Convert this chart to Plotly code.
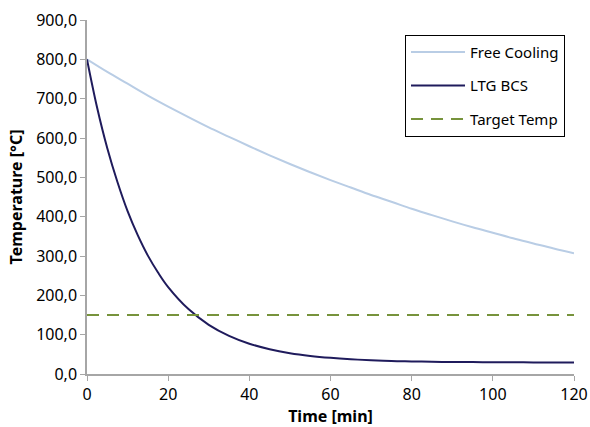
import plotly.graph_objects as go

time_fc = [0, 5, 10, 15, 20, 25, 30, 35, 40, 45, 50, 55, 60, 65, 70, 75, 80,
           85, 90, 95, 100, 105, 110, 115, 120]
free_cooling = [800, 768, 738, 708, 680, 653, 627, 603, 579, 556, 534, 513, 493,
                474, 455, 438, 420, 404, 388, 373, 359, 345, 332, 319, 307]

time_ltg = [0, 2.5, 5, 7.5, 10, 12.5, 15, 17.5, 20, 25, 30, 35, 40, 45, 50, 55, 60,
            65, 70, 75, 80, 85, 90, 95, 100, 105, 110, 115, 120]
ltg_bcs = [800, 677, 574, 488, 414, 353, 301, 258, 221, 165, 125, 97, 77, 63, 53, 46, 41,
           37.5, 35, 33, 32, 31.1, 30.6, 30.2, 29.9, 29.7, 29.5, 29.4, 29.3]

time_target = [0, 120]
target_temp = [150, 150]

x_ticks = [0, 20, 40, 60, 80, 100, 120]
y_ticks = [0, 100, 200, 300, 400, 500, 600, 700, 800, 900]

FONT = "Noto Sans"

fig = go.Figure()
fig.add_trace(go.Scatter(x=time_fc, y=free_cooling, mode="lines", name="Free Cooling",
                         legendgroup="a", line=dict(color="#B9CDE5", width=2, shape="spline")))
fig.add_trace(go.Scatter(x=time_ltg, y=ltg_bcs, mode="lines", name="LTG BCS",
                         legendgroup="b", line=dict(color="#1F1B5C", width=2, shape="spline")))
fig.add_trace(go.Scatter(x=time_target, y=target_temp, mode="lines", name="Target Temp",
                         legendgroup="c", line=dict(color="#77933C", width=2, dash="12px,8px")))

fig.update_layout(
    width=590, height=427,
    margin=dict(l=87, r=16, t=20, b=53),
    paper_bgcolor="white", plot_bgcolor="white",
    separators=",.",
    font=dict(family=FONT, size=16, color="#000000"),
    showlegend=True,
    legend=dict(
        x=0.653, y=0.958, xanchor="left", yanchor="top",
        bordercolor="#000000", borderwidth=1, bgcolor="white",
        font=dict(family=FONT, size=15, color="#000000"),
        tracegroupgap=11, itemwidth=54,
    ),
)
fig.update_xaxes(
    range=[0, 120], tickvals=x_ticks, showgrid=False, zeroline=False,
    showline=True, linecolor="#A6A6A6", linewidth=1.5, automargin=False,
    ticks="outside", ticklen=5, tickcolor="#A6A6A6",
    tickfont=dict(family=FONT, size=16),
    title=dict(text="<b>Time [min]</b>", font=dict(family=FONT, size=16), standoff=2),
)
fig.update_yaxes(
    range=[0, 900], tickvals=y_ticks, tickformat=".1f", showgrid=False, zeroline=False,
    showline=True, linecolor="#A6A6A6", linewidth=1.5, automargin=False,
    ticks="outside", ticklen=5, tickcolor="#A6A6A6",
    tickfont=dict(family=FONT, size=16),
    title=dict(text="<b>Temperature [°C]</b>", font=dict(family=FONT, size=16), standoff=10),
)

fig.write_html(
    "out.html",
    config={"displayModeBar": False},
    post_script="document.body.style.margin='0';document.body.style.overflow='hidden';",
)
